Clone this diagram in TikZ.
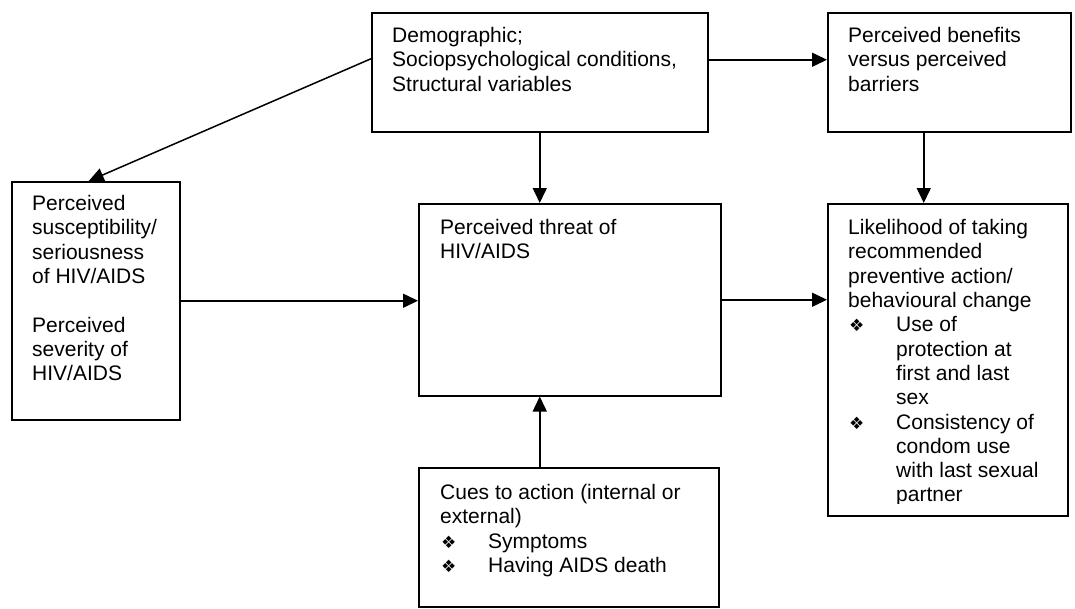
\documentclass[tikz,border=0pt]{standalone}
\usepackage{fontspec}
\setmainfont{Liberation Sans}
\newfontfamily\symfont{DejaVu Sans}
\usetikzlibrary{arrows.meta}
\newcommand{\bul}{\makebox[48pt][l]{\hspace*{1pt}\symfont\fontsize{17}{17}\selectfont ❖}}
\newcommand{\ind}{\hspace*{48pt}}
\begin{document}
\begin{tikzpicture}[x=1pt,y=-1pt,
  box/.style={draw,line width=1.5pt,rectangle,inner sep=0pt,anchor=north west},
  txt/.style={anchor=north west,inner sep=0pt,align=left,font=\fontsize{21}{24.3}\selectfont},
  arr/.style={line width=1.5pt,-{Triangle[length=15pt,width=14pt]}}]
\useasboundingbox (0,0) rectangle (1075,608);
% boxes
\node[box,minimum width=336pt,minimum height=119pt] (demo) at (371,12) {};
\node[box,minimum width=243pt,minimum height=119pt] (bene) at (827,12) {};
\node[box,minimum width=168pt,minimum height=238pt] (susc) at (11,181) {};
\node[box,minimum width=302pt,minimum height=192pt] (threat) at (418,203) {};
\node[box,minimum width=240pt,minimum height=312pt] (like) at (827,203) {};
\node[box,minimum width=300pt,minimum height=139pt] (cues) at (418,467) {};
% texts
\node[txt] (tdemo) at (392,27.2) {Demographic;\\Sociopsychological conditions,\\Structural variables};
\node[txt] (tbene) at (848,27.2) {Perceived benefits\\versus perceived\\barriers};
\node[txt] (tsusc) at (32,195.2) {Perceived\\susceptibility/\\seriousness\\of HIV/AIDS\\[24.3pt]Perceived\\severity of\\HIV/AIDS};
\node[txt] (tthreat) at (440,219.2) {Perceived threat of\\HIV/AIDS};
\begin{scope}
\clip (827,203) rectangle (1067,503);
\node[txt] (tlike) at (848,219.2) {Likelihood of taking\\recommended\\preventive action/\\behavioural change\\\bul Use of\\\ind protection at\\\ind first and last\\\ind sex\\\bul Consistency of\\\ind condom use\\\ind with last sexual\\\ind partner};
\end{scope}
\node[txt] (tcues) at (440,484.2) {Cues to action (internal or\\external)\\\bul Symptoms\\\bul Having AIDS death};
% connectors
\draw[arr] ([yshift=12.5pt]demo.east) -- ([yshift=12.5pt]bene.west);
\draw[arr] ([yshift=13.5pt]demo.west) -- ([xshift=-7pt]susc.north);
\draw[arr] (demo.south) -- (demo.south |- threat.north);
\draw[arr] ([xshift=-25.5pt]bene.south) -- ([xshift=-25.5pt]bene.south |- like.north);
\draw[arr] (susc.east) -- (susc.east -| threat.west);
\draw[arr] (threat.east) -- (threat.east -| like.west);
\draw[arr] (cues.north -| demo.south) -- (demo.south |- threat.south);
\end{tikzpicture}
\end{document}
